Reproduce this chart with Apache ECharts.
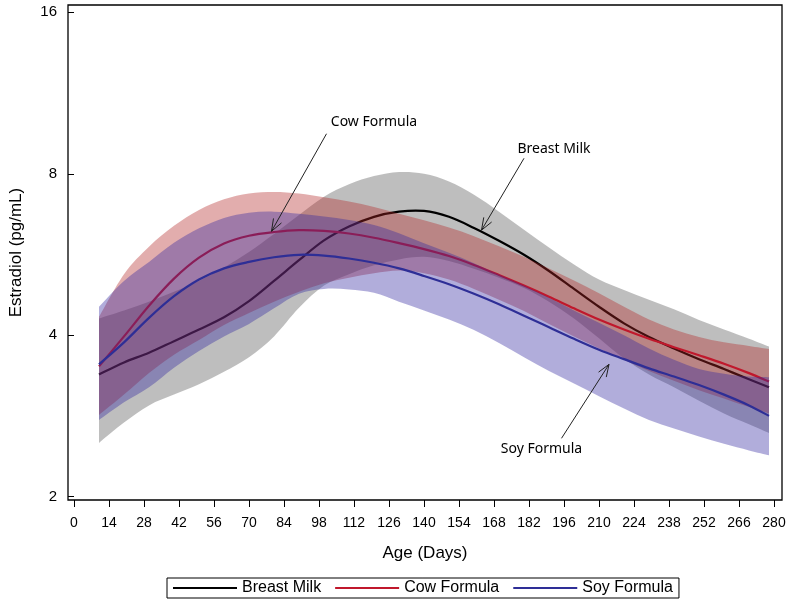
<!DOCTYPE html>
<html>
<head>
<meta charset="utf-8">
<script src="https://cdn.jsdelivr.net/npm/echarts@6/dist/echarts.min.js"></script>
<style>html,body{margin:0;padding:0;background:#fff;}#chart{width:791px;height:602px;}</style>
</head>
<body>
<div id="chart"></div>
<script>
// ---- data ----
const days = [10,20,30,40,50,60,70,80,90,100,110,120,130,140,150,160,170,180,190,200,210,220,230,240,250,260,270,278];

const breastMean  = [3.38,3.56,3.71,3.90,4.10,4.32,4.63,5.05,5.52,6.01,6.38,6.65,6.80,6.82,6.65,6.34,6.00,5.65,5.27,4.88,4.52,4.21,3.97,3.78,3.61,3.46,3.31,3.20];
const breastUpper = [4.30,4.45,4.62,4.82,5.05,5.35,5.72,6.18,6.70,7.25,7.65,7.92,8.06,8.00,7.74,7.31,6.80,6.29,5.83,5.42,5.08,4.86,4.66,4.47,4.27,4.10,3.94,3.81];
const breastLower = [2.52,2.75,2.96,3.10,3.24,3.42,3.64,3.98,4.50,4.95,5.20,5.40,5.54,5.60,5.50,5.32,5.12,4.90,4.62,4.30,3.95,3.62,3.38,3.20,3.02,2.86,2.73,2.63];

const cowMean  = [3.50,3.98,4.54,5.10,5.58,5.93,6.13,6.23,6.28,6.26,6.19,6.08,5.94,5.79,5.62,5.41,5.18,4.95,4.72,4.49,4.28,4.10,3.94,3.80,3.67,3.54,3.40,3.28];
const cowUpper = [4.33,5.20,5.85,6.40,6.85,7.17,7.35,7.40,7.35,7.23,7.10,6.94,6.74,6.55,6.35,6.12,5.86,5.60,5.33,5.06,4.79,4.52,4.28,4.10,3.97,3.88,3.82,3.77];
const cowLower = [2.84,3.10,3.40,3.68,3.92,4.18,4.40,4.62,4.82,5.00,5.12,5.22,5.28,5.22,5.08,4.88,4.66,4.44,4.20,3.98,3.78,3.60,3.43,3.29,3.16,3.05,2.94,2.86];

const soyMean  = [3.53,3.88,4.31,4.73,5.08,5.33,5.48,5.59,5.65,5.63,5.56,5.46,5.33,5.16,4.98,4.78,4.57,4.35,4.14,3.94,3.76,3.61,3.47,3.35,3.23,3.10,2.96,2.83];
const soyUpper = [4.52,5.05,5.48,5.95,6.33,6.62,6.77,6.80,6.74,6.66,6.56,6.42,6.20,5.94,5.70,5.45,5.19,4.95,4.70,4.45,4.22,4.00,3.78,3.60,3.46,3.39,3.35,3.34];
const soyLower = [2.78,3.00,3.20,3.48,3.74,3.98,4.20,4.49,4.78,4.88,4.87,4.80,4.62,4.45,4.28,4.09,3.87,3.64,3.43,3.25,3.08,2.92,2.78,2.68,2.59,2.51,2.44,2.39];

const xTicks = [0,14,28,42,56,70,84,98,112,126,140,154,168,182,196,210,224,238,252,266,280];
const yTicks = [2,4,8,16];

const seriesNames = ['Breast Milk','Cow Formula','Soy Formula'];

// annotations (data coordinates)
const annotationLabels = ['Cow Formula','Breast Milk','Soy Formula'];
const annotationLabelAt = [[120,10.0],[192,8.9],[187,2.45]];
const annotationFrom = [[101,9.5],[180,8.55],[195,2.57]];
const annotationTo = [[79,6.25],[163,6.28],[214,3.53]];

// ---- styles ----
const lineColors = ['#000000','#c0182c','#2e2e96'];
const bandColors = ['rgba(110,110,110,0.45)','rgba(180,40,40,0.38)','rgba(50,40,160,0.38)'];
const groups = [
  {mean: breastMean, up: breastUpper, lo: breastLower},
  {mean: cowMean, up: cowUpper, lo: cowLower},
  {mean: soyMean, up: soyUpper, lo: soyLower}
];

const FONT = 'Arial, "Liberation Sans", sans-serif';

function smoothSegs(pts) {
  let s = '';
  for (let i = 0; i < pts.length - 1; i++) {
    const p0 = pts[i - 1] || pts[i], p1 = pts[i], p2 = pts[i + 1], p3 = pts[i + 2] || pts[i + 1];
    const c1 = [p1[0] + (p2[0] - p0[0]) / 6, p1[1] + (p2[1] - p0[1]) / 6];
    const c2 = [p2[0] - (p3[0] - p1[0]) / 6, p2[1] - (p3[1] - p1[1]) / 6];
    s += ' C' + c1[0] + ',' + c1[1] + ' ' + c2[0] + ',' + c2[1] + ' ' + p2[0] + ',' + p2[1];
  }
  return s;
}

const series = [];
groups.forEach((g, k) => {
  // confidence band
  series.push({
    type: 'custom', silent: true, clip: true,
    data: [[days[0], g.mean[0]]],
    encode: {x: 0, y: 1},
    renderItem: function (params, api) {
      const up = days.map((d, i) => api.coord([d, g.up[i]]));
      const lo = days.map((d, i) => api.coord([d, g.lo[i]])).reverse();
      const path = 'M' + up[0][0] + ',' + up[0][1] + smoothSegs(up) +
        ' L' + lo[0][0] + ',' + lo[0][1] + smoothSegs(lo) + ' Z';
      return {type: 'path', shape: {pathData: path}, style: {fill: bandColors[k], stroke: null}};
    }
  });
  // fitted curve
  series.push({
    name: seriesNames[k], type: 'custom', silent: true, clip: true,
    itemStyle: {color: lineColors[k]},
    data: [[days[0], g.mean[0]]],
    encode: {x: 0, y: 1},
    renderItem: function (params, api) {
      const pts = days.map((d, i) => api.coord([d, g.mean[i]]));
      const path = 'M' + pts[0][0] + ',' + pts[0][1] + smoothSegs(pts);
      return {type: 'path', shape: {pathData: path}, style: {fill: null, stroke: lineColors[k], lineWidth: 2.2}};
    }
  });
});

series.push({
  type: 'custom', silent: true, z: 10, clip: false,
  data: annotationTo,
  encode: {x: 0, y: 1},
  renderItem: function (params, api) {
    const i = params.dataIndex;
    const p1 = api.coord(annotationFrom[i]);
    const p2 = api.coord(annotationTo[i]);
    const pt = api.coord(annotationLabelAt[i]);
    const ang = Math.atan2(p2[1] - p1[1], p2[0] - p1[0]);
    const L = 13, a = 0.36;
    const h1 = [p2[0] - L * Math.cos(ang - a), p2[1] - L * Math.sin(ang - a)];
    const h2 = [p2[0] - L * Math.cos(ang + a), p2[1] - L * Math.sin(ang + a)];
    return {
      type: 'group',
      children: [
        {type: 'line', shape: {x1: p1[0], y1: p1[1], x2: p2[0], y2: p2[1]}, style: {stroke: '#222', lineWidth: 1}},
        {type: 'polyline', shape: {points: [h1, p2, h2]}, style: {stroke: '#222', lineWidth: 1, fill: null}},
        {type: 'text', x: pt[0], y: pt[1], style: {text: annotationLabels[i], font: '14px "Noto Sans"', fill: '#000', align: 'center', verticalAlign: 'middle'}}
      ]
    };
  }
});

const chart = echarts.init(document.getElementById('chart'), null, {renderer: 'canvas'});
chart.setOption({
  animation: false,
  backgroundColor: '#fff',
  grid: {left: 68, right: 9, top: 5, bottom: 102, outerBoundsMode: 'none', containLabel: false,
         show: true, borderColor: '#000', borderWidth: 1.3, backgroundColor: 'transparent'},
  legend: {
    data: seriesNames,
    left: 167, top: 578,
    padding: [2, 6, 2, 6],
    borderColor: '#000', borderWidth: 1,
    icon: 'rect',
    itemWidth: 64, itemHeight: 2, itemGap: 14,
    textStyle: {fontFamily: FONT, fontSize: 16, color: '#000'},
    selectedMode: false
  },
  xAxis: {
    type: 'value', min: -2.4, max: 283.2,
    name: 'Age (Days)', nameLocation: 'middle', nameGap: 45,
    nameTextStyle: {fontFamily: FONT, fontSize: 17, color: '#000'},
    axisLine: {show: false},
    axisTick: {show: true, length: 7, customValues: xTicks, lineStyle: {color: '#000', width: 1}},
    axisLabel: {customValues: xTicks, fontFamily: FONT, fontSize: 14, color: '#000', margin: 16},
    splitLine: {show: false}
  },
  yAxis: {
    type: 'log', logBase: 2, min: 1.972, max: 16.51,
    name: 'Estradiol (pg/mL)', nameLocation: 'middle', nameGap: 43, nameRotate: 90,
    nameTextStyle: {fontFamily: FONT, fontSize: 17, color: '#000'},
    axisLine: {show: false},
    axisTick: {show: true, length: 6, customValues: yTicks, lineStyle: {color: '#000', width: 1}},
    axisLabel: {customValues: yTicks, fontFamily: FONT, fontSize: 15, color: '#000', margin: 11},
    splitLine: {show: false}
  },
  series: series
});
</script>
</body>
</html>
